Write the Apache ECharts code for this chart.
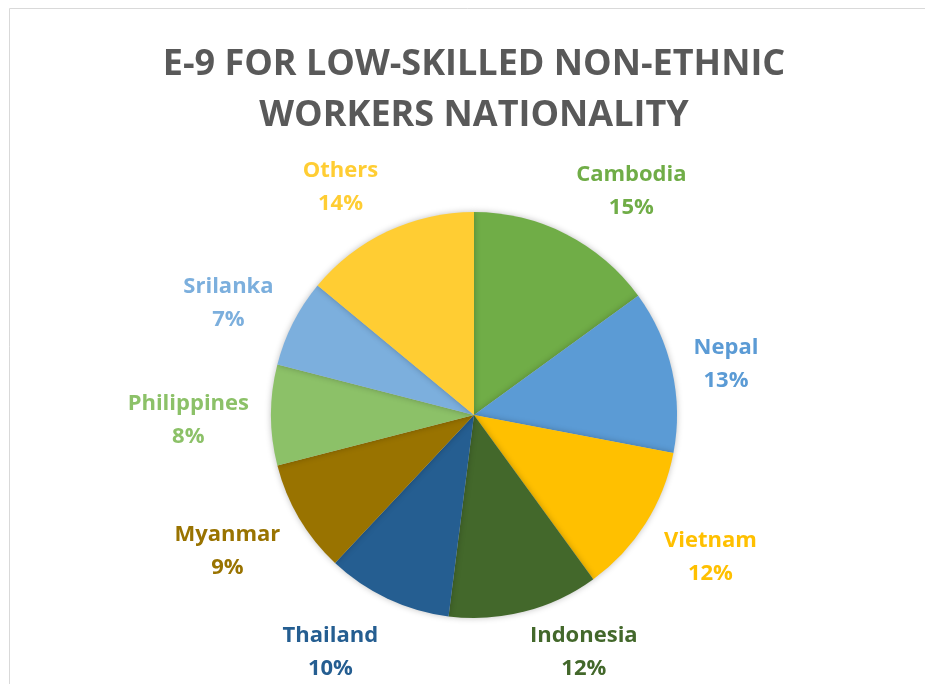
<!DOCTYPE html>
<html>
<head>
<meta charset="utf-8">
<script src="https://cdn.jsdelivr.net/npm/echarts@6/dist/echarts.min.js"></script>
<style>
  html, body { margin: 0; padding: 0; background: #fff; }
  #chart { width: 925px; height: 684px; }
</style>
</head>
<body>
<div id="chart"></div>
<script>
var countries = ['Cambodia', 'Nepal', 'Vietnam', 'Indonesia', 'Thailand', 'Myanmar', 'Philippines', 'Srilanka', 'Others'];
var shares = [15, 13, 12, 12, 10, 9, 8, 7, 14];
var colors = ['#70AD47', '#5B9BD5', '#FFC000', '#43682B', '#255E91', '#997300', '#8CC168', '#7CAFDD', '#FFCD33'];

var chart = echarts.init(document.getElementById('chart'));

var CX = 474, CY = 415, R = 203;
var total = shares.reduce(function (a, b) { return a + b; }, 0);

// middle angle of each slice, clockwise from 12 o'clock
var midAngles = [];
var acc = 0;
shares.forEach(function (v) {
    midAngles.push((acc + v / 2) / total * Math.PI * 2);
    acc += v;
});

var pieData = countries.map(function (name, i) {
    return {
        name: name,
        value: shares[i],
        itemStyle: { color: colors[i] },
        label: { color: colors[i] }
    };
});

var option = {
    backgroundColor: '#fff',
    animation: false,
    title: {
        text: 'E-9 FOR LOW-SKILLED NON-ETHNIC\nWORKERS NATIONALITY',
        left: 469,
        top: 34,
        textAlign: 'center',
        textStyle: {
            fontFamily: 'Open Sans',
            fontWeight: 'bold',
            fontSize: 36,
            lineHeight: 51,
            color: '#595959'
        }
    },
    graphic: [{
        type: 'rect',
        shape: { x: 9.5, y: 8.5, width: 1000, height: 1000 },
        style: { fill: 'none', stroke: '#d9d9d9', lineWidth: 1 },
        silent: true
    }],
    series: [{
        type: 'pie',
        center: [CX, CY],
        radius: R,
        startAngle: 90,
        clockwise: true,
        avoidLabelOverlap: false,
        data: pieData,
        itemStyle: {
            borderWidth: 0,
            shadowBlur: 6,
            shadowColor: 'rgba(0,0,0,0.25)'
        },
        label: {
            show: true,
            position: 'outside',
            formatter: function (p) {
                return '{a|' + p.name + '}\n{a|' + Math.round(p.percent) + '%}';
            },
            rich: {
                a: {
                    fontFamily: 'Open Sans',
                    fontWeight: 'bold',
                    fontSize: 22,
                    lineHeight: 33,
                    align: 'center'
                }
            }
        },
        labelLine: { show: false },
        labelLayout: function (p) {
            var a = midAngles[p.dataIndex];
            var dx = Math.sin(a), dy = -Math.cos(a);
            var w = p.labelRect.width, h = p.labelRect.height;
            var y = CY + dy * (R + 54) + 5;
            // keep labels inside the bottom edge, like the spreadsheet does
            y = Math.min(y, chart.getHeight() - h / 2 - 4);
            return {
                x: CX + dx * (R + 22) + (dx >= 0 ? 1 : -1) * w / 2,
                y: y,
                align: 'center',
                verticalAlign: 'middle'
            };
        },
        emphasis: { disabled: true }
    }]
};

chart.setOption(option);
</script>
</body>
</html>
